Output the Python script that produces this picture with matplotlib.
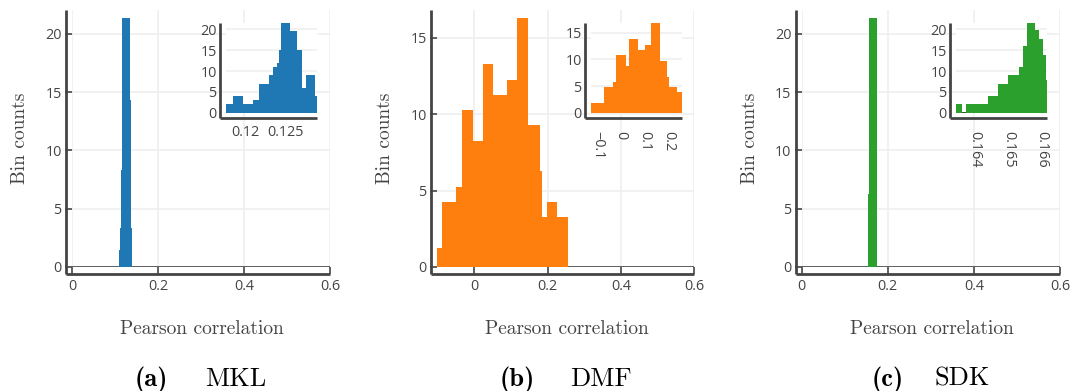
import numpy as np
import matplotlib.pyplot as plt

W, H = 1084, 391
AXIS = '#444444'
GRID = '#eeeeee'

# ---- data ----
# main histograms: bin edges and counts
mkl_edges = [0.1093, 0.1116, 0.1140, 0.1170, 0.1349, 0.1372, 0.1395]
mkl_counts = [1.45, 3.35, 8.3, 21.35, 14.3, 3.35]
dmf_edges = [-0.1014, -0.0877, -0.0501, -0.0329, -0.0027, 0.0247, 0.0521, 0.0886,
             0.1178, 0.1460, 0.1799, 0.1845, 0.1982, 0.2256, 0.2548]
dmf_counts = [1.25, 4.25, 5.25, 10.25, 8.25, 13.25, 11.25, 12.25, 16.25, 9.25,
              6.25, 3.25, 4.25, 3.25]
sdk_edges = [0.1549, 0.1572, 0.1744]
sdk_counts = [6.3, 21.35]

# zoomed insets
mkl_zoom_edges = [0.117625, 0.118542, 0.119708, 0.121042, 0.121792, 0.123042, 0.123542,
                  0.123958, 0.124292, 0.124458, 0.125625, 0.126458, 0.127083, 0.127625,
                  0.12875, 0.128958]
mkl_zoom_counts = [2, 4, 2, 3, 7, 9, 11, 12, 15, 21.6, 19.6, 15, 6, 9, 4]
dmf_zoom_edges = [-0.1266, -0.0717, -0.0323, -0.0211, 0.0197, 0.0352, 0.0731, 0.1013,
                  0.1266, 0.1646, 0.1955, 0.2039, 0.2377, 0.2560]
dmf_zoom_counts = [1.8, 4.9, 5.8, 10.8, 8.8, 13.8, 11.8, 12.8, 16.9, 9.7, 6.7, 4.9, 3.8]
sdk_zoom_edges = [0.16343, 0.16360, 0.16373, 0.16440, 0.16470, 0.16500, 0.16533, 0.16545,
                  0.16555, 0.16580, 0.16593, 0.16603, 0.16613, 0.16615]
sdk_zoom_counts = [2, 0, 2, 4, 7, 9, 11, 16, 21.6, 19.8, 17.7, 13.8, 7.8]

main_xticks = [0, 0.2, 0.4, 0.6]
main_xticklabels = ['0', '0.2', '0.4', '0.6']
mkl_zoom_xticks = [0.12, 0.125]
mkl_zoom_xticklabels = ['0.12', '0.125']
dmf_zoom_xticks = [-0.1, 0, 0.1, 0.2]
dmf_zoom_xticklabels = ['\u22120.1', '0', '0.1', '0.2']
sdk_zoom_xticks = [0.164, 0.165, 0.166]
sdk_zoom_xticklabels = ['0.164', '0.165', '0.166']

letters = ['(a)', '(b)', '(c)']
methods = ['MKL', 'DMF', 'SDK']
colors = ['#1f77b4', '#ff7f0e', '#2ca02c']

panels = [
    dict(main=(72, 10, 330, 267), inset=(226, 22.7, 316.7, 112.7),
         edges=mkl_edges, counts=mkl_counts, xlim=(0, 0.6), ylim=(0, 22.06),
         yticks=[0, 5, 10, 15, 20],
         zedges=mkl_zoom_edges, zcounts=mkl_zoom_counts, zylim=(0, 21.6),
         zyticks=[0, 5, 10, 15, 20], zxticks=mkl_zoom_xticks,
         zxlabels=mkl_zoom_xticklabels, rot=0, cap=(135, 205)),
    dict(main=(437, 10, 694, 267), inset=(591, 22.7, 681.7, 112.7),
         edges=dmf_edges, counts=dmf_counts, xlim=(-0.102, 0.6), ylim=(0, 16.8),
         yticks=[0, 5, 10, 15],
         zedges=dmf_zoom_edges, zcounts=dmf_zoom_counts, zylim=(0, 16.9),
         zyticks=[0, 5, 10, 15], zxticks=dmf_zoom_xticks,
         zxlabels=dmf_zoom_xticklabels, rot=-90, cap=(500, 570)),
    dict(main=(801.7, 10, 1060, 267), inset=(956, 22.7, 1046.7, 112.7),
         edges=sdk_edges, counts=sdk_counts, xlim=(0, 0.6), ylim=(0, 22.06),
         yticks=[0, 5, 10, 15, 20],
         zedges=sdk_zoom_edges, zcounts=sdk_zoom_counts, zylim=(0, 21.6),
         zyticks=[0, 5, 10, 15, 20], zxticks=sdk_zoom_xticks,
         zxlabels=sdk_zoom_xticklabels, rot=-90, cap=(872, 935)),
]

plt.rcParams['font.family'] = 'Open Sans'
fig = plt.figure(figsize=(W / 100, H / 100), dpi=100)


def fx(x):
    return x / W


def fy(y):
    return 1 - y / H


def px_axes(box):
    l, t, r, b = box
    return fig.add_axes([l / W, 1 - b / H, (r - l) / W, (b - t) / H])


def offset_lines(ax, box, off_x, off_y, lw):
    l, t, r, b = box
    dx = off_x / (r - l)
    dy = off_y / (b - t)
    kw = dict(transform=ax.transAxes, color=AXIS, lw=lw, clip_on=False,
              solid_capstyle='butt', zorder=5)
    ax.plot([-dx, -dx], [-dy, 1], **kw)
    ax.plot([-dx, 1], [-dy, -dy], **kw)


def draw_hist(ax, edges, counts, color):
    # one filled polygon per histogram, so no seams between bins
    ax.stairs(counts, edges, fill=True, color=color, linewidth=0, zorder=3)


for i, p in enumerate(panels):
    color = colors[i]

    # main axes
    ax = px_axes(p['main'])
    for s in ax.spines.values():
        s.set_visible(False)
    draw_hist(ax, p['edges'], p['counts'], color)
    ax.axhline(0, color=AXIS, lw=1.9, zorder=2)
    ax.set_xlim(*p['xlim'])
    ax.set_ylim(*p['ylim'])
    ax.set_xticks(main_xticks)
    ax.set_xticklabels(main_xticklabels)
    ax.set_yticks(p['yticks'])
    ax.set_yticklabels([str(v) for v in p['yticks']])
    ax.grid(True, color=GRID, lw=1.1)
    ax.set_axisbelow(True)
    ax.tick_params(length=5, width=1.2, color=AXIS, labelcolor=AXIS, labelsize=10.4)
    ax.tick_params(axis='x', pad=3.5)
    ax.tick_params(axis='y', pad=2.4)
    offset_lines(ax, p['main'], 6, 7, 2.0)

    # inset
    ins = px_axes(p['inset'])
    ins.set_facecolor('white')
    for s in ins.spines.values():
        s.set_visible(False)
    draw_hist(ins, p['zedges'], p['zcounts'], color)
    ins.axhline(0, color=AXIS, lw=1.4, zorder=2)
    ins.set_xlim(p['zedges'][0], p['zedges'][-1])
    ins.set_ylim(*p['zylim'])
    ins.set_yticks(p['zyticks'])
    ins.set_yticklabels([str(v) for v in p['zyticks']])
    ins.set_xticks(p['zxticks'])
    ins.set_xticklabels(p['zxlabels'], rotation=p['rot'])
    ins.grid(True, axis='y', color=GRID, lw=1.1)
    ins.set_axisbelow(True)
    ins.tick_params(length=0, labelcolor=AXIS, labelsize=10.4)
    ins.tick_params(axis='y', pad=6.7)
    ins.tick_params(axis='x', pad=13.5 if p['rot'] else 9)
    offset_lines(ins, p['inset'], 6, 5.6, 2.0)

    # titles and caption
    l, t, r, b = p['main']
    fig.text(fx(l - 52), fy(138), 'Bin counts', rotation=90, ha='center', va='center',
             family='cmr10', size=14, color=AXIS)
    fig.text(fx((l + r) / 2 + 1), fy(334), 'Pearson correlation', ha='center',
             va='baseline', family='cmr10', size=14, color=AXIS)
    fig.text(fx(p['cap'][0]), fy(386), letters[i], ha='left', va='baseline',
             family='cmb10', size=19, color='black')
    fig.text(fx(p['cap'][1]), fy(386), methods[i], ha='left', va='baseline',
             family='cmr10', size=19, color='black')

fig.savefig('out.png', dpi=100)
